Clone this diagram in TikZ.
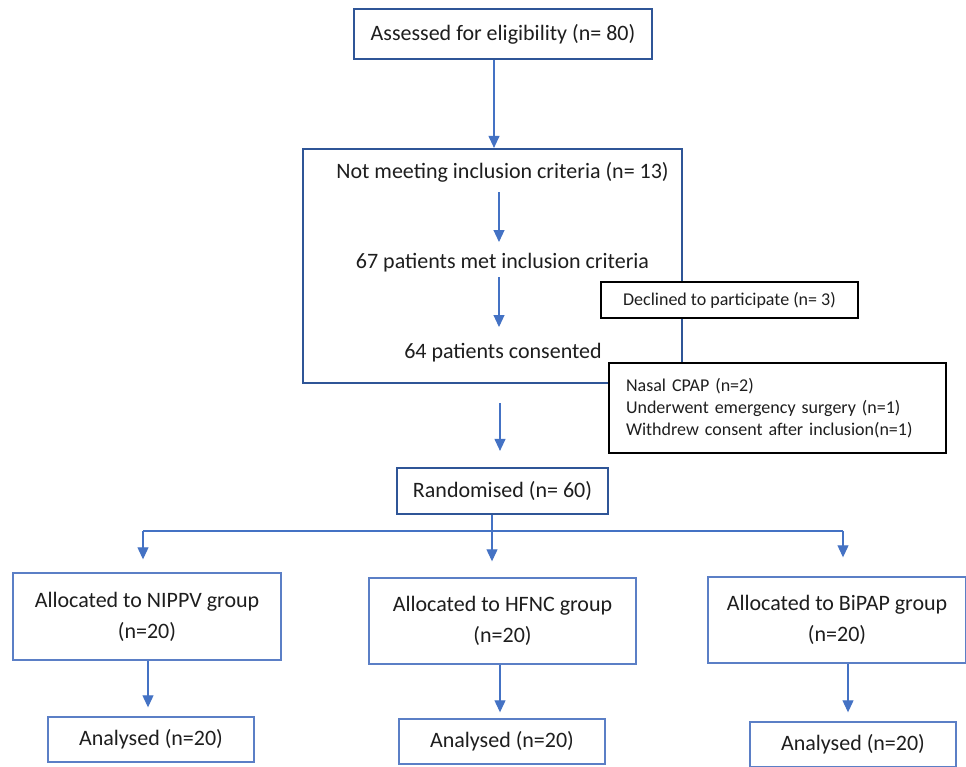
\documentclass[tikz,border=0pt]{standalone}
\usepackage{fontspec}
\setmainfont{Carlito}
\usetikzlibrary{arrows.meta}
\definecolor{dkblue}{HTML}{2F5597}
\definecolor{ltblue}{HTML}{4472C4}
\definecolor{boxblue}{HTML}{5B7FC6}
\definecolor{txt}{HTML}{1E1E1E}
\begin{document}
\begin{tikzpicture}[x=1pt,y=-1pt,
  every node/.style={inner sep=0pt, text=txt},
  bigtxt/.style={font=\fontsize{22}{26}\selectfont},
  twoline/.style={font=\fontsize{22}{31}\selectfont, align=center},
  smalltxt/.style={font=\fontsize{18}{22}\selectfont},
  darkbox/.style={draw=dkblue, line width=2.2pt, fill=white},
  lightbox/.style={draw=boxblue, line width=1.4pt, fill=white},
  blackbox/.style={draw=black, line width=2pt, fill=white},
  arr/.style={draw=ltblue, line width=1.1pt, -{Triangle[width=11pt,length=12pt]}},
  link/.style={draw=ltblue, line width=1.1pt}
]
\clip (0,0) rectangle (966,766);
\fill[white] (0,0) rectangle (966,766);

% top
\node[darkbox, bigtxt, minimum width=298pt, minimum height=50pt] (top) at (503,34) {Assessed for eligibility (n= 80)};

% large screening box
\node[darkbox, minimum width=379pt, minimum height=234pt] (bigbox) at (492.5,266) {};
\node[bigtxt] (t1) at (502.5,172) {Not meeting inclusion criteria (n= 13)};
\node[bigtxt] (t2) at (502.5,263) {67 patients met inclusion criteria};
\node[bigtxt] (t3) at (503,353) {64 patients consented};

\coordinate (a1s) at (499,192);
\coordinate (a1e) at (499,242);
\coordinate (a2s) at (499,277);
\coordinate (a2e) at (499,327);
\draw[arr] (a1s) -- (a1e);
\draw[arr] (a2s) -- (a2e);

% exclusion boxes
\node[blackbox, smalltxt, minimum width=257pt, minimum height=36pt] (decl) at (729.5,300) {Declined to participate (n= 3)};
\node[blackbox, smalltxt, minimum width=337pt, minimum height=90pt, text width=303pt, align=left] (excl) at (777.5,408) {Nasal CPAP (n=2)\\Underwent emergency surgery (n=1)\\Withdrew consent after inclusion(n=1)};

% randomised
\node[darkbox, bigtxt, minimum width=211pt, minimum height=46pt] (rand) at (502.5,491) {Randomised (n= 60)};

\draw[arr] ([xshift=-9pt]top.south) -- ([xshift=-9pt]top.south |- bigbox.north);
\draw[arr, shorten <=19pt, shorten >=16pt] ([xshift=7.5pt]bigbox.south) -- ([xshift=-2.5pt]rand.north);

% groups
\node[lightbox, twoline, minimum width=268pt, minimum height=87pt] (nippv) at (147,616.5) {Allocated to NIPPV group\\(n=20)};
\node[lightbox, twoline, minimum width=267pt, minimum height=86pt] (hfnc) at (502.5,621) {Allocated to HFNC group\\(n=20)};
\node[lightbox, twoline, minimum width=258pt, minimum height=86pt] (bipap) at (837,620) {Allocated to BiPAP group\\(n=20)};

\coordinate (split) at (492,531);
\coordinate (c1) at (143,531);
\coordinate (c3) at (843,531);
\draw[link] ([xshift=-10.5pt]rand.south) -- (split);
\draw[link] (c1) -- (c3);
\draw[arr, shorten >=13pt] (c1) -- (c1 |- nippv.north);
\draw[arr, shorten >=16pt] (split) -- (split |- hfnc.north);
\draw[arr, shorten >=19pt] (c3) -- (c3 |- bipap.north);

% analysed
\node[lightbox, bigtxt, minimum width=206pt, minimum height=45pt] (an1) at (151,739.5) {Analysed (n=20)};
\node[lightbox, bigtxt, minimum width=206pt, minimum height=45pt] (an2) at (502,741.5) {Analysed (n=20)};
\node[lightbox, bigtxt, minimum width=206pt, minimum height=45pt] (an3) at (853,744.5) {Analysed (n=20)};

\draw[arr, shorten >=9pt] ([xshift=1pt]nippv.south) -- ([xshift=1pt]nippv.south |- an1.north);
\draw[arr, shorten >=6pt] ([xshift=-2.5pt]hfnc.south) -- ([xshift=-2.5pt]hfnc.south |- an2.north);
\draw[arr, shorten >=9pt] ([xshift=11pt]bipap.south) -- ([xshift=11pt]bipap.south |- an3.north);
\end{tikzpicture}
\end{document}
